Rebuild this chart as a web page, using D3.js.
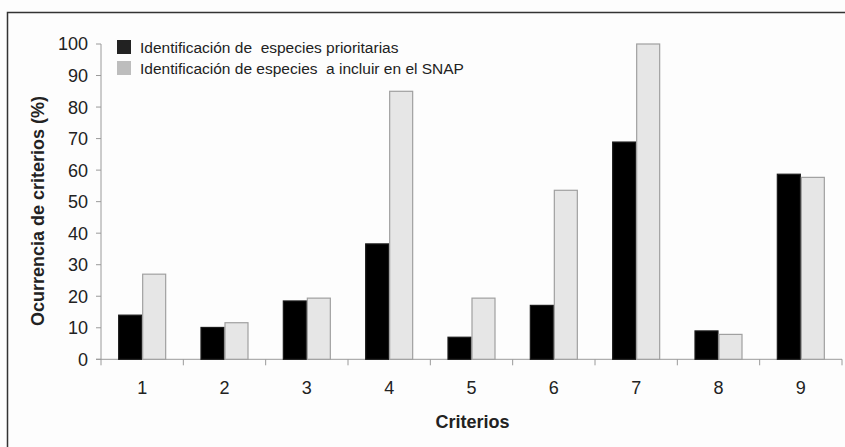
<!DOCTYPE html>
<html><head><meta charset="utf-8">
<script src="https://cdn.jsdelivr.net/npm/d3@7"></script>
<style>html,body{margin:0;padding:0;background:#fdfdfd;}svg{display:block;font-family:"Liberation Sans",Arial,sans-serif;}text{white-space:pre;}</style>
</head><body>
<svg id="c" width="845" height="447"></svg>
<script>
const categories = ["1","2","3","4","5","6","7","8","9"];
const seriesNames = ["Identificación de  especies prioritarias","Identificación de especies  a incluir en el SNAP"];
const prioritarias = [14, 10.1, 18.5, 36.6, 7.0, 17.1, 68.9, 9.0, 58.7];
const snap = [27.0, 11.6, 19.4, 85.0, 19.4, 53.6, 100, 7.9, 57.7];
const yTicks = [0,10,20,30,40,50,60,70,80,90,100];

const svg = d3.select("#c");
svg.append("rect").attr("x",7.5).attr("y",12.5).attr("width",900).attr("height",500)
  .attr("fill","#fdfdfd").attr("stroke","#333").attr("stroke-width",1.5);

const x0 = d3.scaleBand().domain(categories).range([101,842]).paddingInner(0.417).paddingOuter(0.2085);
const x1 = d3.scaleBand().domain([0,1]).range([0,x0.bandwidth()]);
const y = d3.scaleLinear().domain([0,100]).range([359.3,44]);

// axes
const axisColor = "#9a9a9a";
svg.append("line").attr("x1",101).attr("x2",101).attr("y1",y(100)).attr("y2",y(0)).attr("stroke",axisColor);
svg.append("line").attr("x1",96).attr("x2",842).attr("y1",y(0)).attr("y2",y(0)).attr("stroke",axisColor);
yTicks.forEach(t=>{
  svg.append("line").attr("x1",96).attr("x2",101).attr("y1",y(t)).attr("y2",y(t)).attr("stroke",axisColor);
  svg.append("text").attr("x",88).attr("y",y(t)).attr("dy","0.36em").attr("text-anchor","end")
    .attr("font-size",18).attr("fill","#222").text(t);
});
const step = x0.step();
categories.forEach((c,i)=>{
  const bx = 101 + i*step;
  svg.append("line").attr("x1",bx).attr("x2",bx).attr("y1",y(0)).attr("y2",y(0)+6).attr("stroke",axisColor);
  svg.append("text").attr("x",x0(c)+x0.bandwidth()/2).attr("y",394).attr("text-anchor","middle")
    .attr("font-size",18).attr("fill","#222").text(c);
});
svg.append("line").attr("x1",842).attr("x2",842).attr("y1",y(0)).attr("y2",y(0)+6).attr("stroke",axisColor);

// bars
const data = categories.map((c,i)=>({c, v:[prioritarias[i], snap[i]]}));
const fills = ["#000000","#e6e6e6"], strokes = ["#1a1a1a","#a0a0a0"];
data.forEach(d=>{
  d.v.forEach((v,j)=>{
    svg.append("rect").attr("x",x0(d.c)+x1(j)+0.5).attr("y",y(v)).attr("width",x1.bandwidth()-1)
      .attr("height",y(0)-y(v)).attr("fill",fills[j]).attr("stroke",strokes[j]).attr("stroke-width",1.2);
  });
});

// legend
const lfills = ["#222222","#bdbdbd"];
seriesNames.forEach((n,i)=>{
  const cy = 47 + i*21;
  svg.append("rect").attr("x",117).attr("y",cy-7).attr("width",14).attr("height",14).attr("fill",lfills[i]);
  svg.append("text").attr("x",140).attr("y",cy).attr("dy","0.36em").attr("font-size",15.5)
    .attr("xml:space","preserve").attr("fill","#222").text(n);
});

// titles
svg.append("text").attr("x",472.5).attr("y",428).attr("text-anchor","middle").attr("font-size",18)
  .attr("font-weight","bold").attr("fill","#222").text("Criterios");
svg.append("text").attr("transform","translate(43.5,211) rotate(-90)").attr("text-anchor","middle")
  .attr("font-size",18).attr("font-weight","bold").attr("fill","#222").text("Ocurrencia de criterios (%)");
</script>
</body></html>
